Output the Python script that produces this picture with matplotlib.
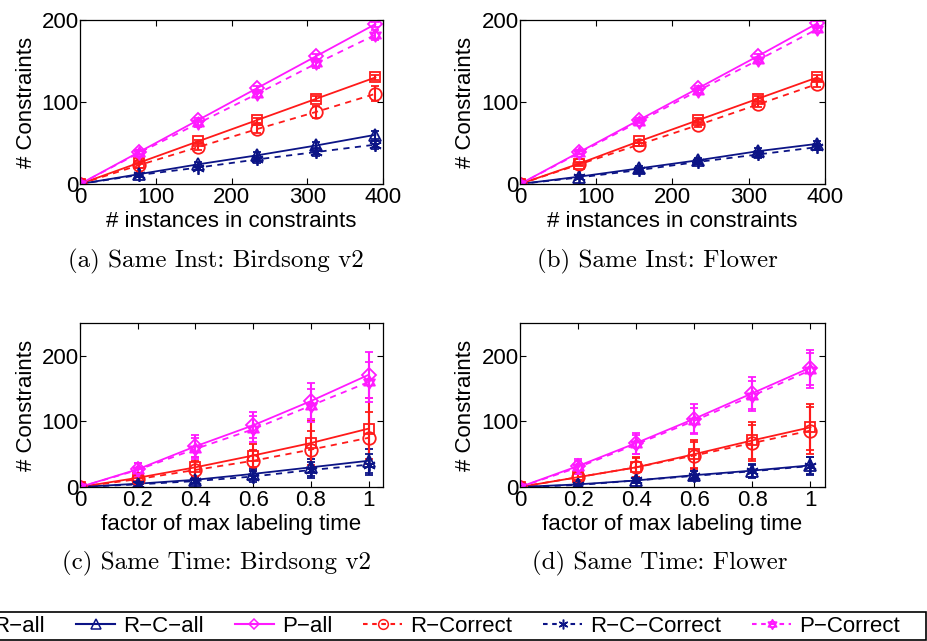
import matplotlib
matplotlib.use("Agg")
import matplotlib.pyplot as plt
from matplotlib.path import Path
from matplotlib.patches import Rectangle
from matplotlib.lines import Line2D

# ---------------- data ----------------
x_inst = [0, 78, 156, 234, 312, 390]
x_time = [0, 0.2, 0.4, 0.6, 0.8, 1.0]

series_names = ["R\u2212all", "R\u2212C\u2212all", "P\u2212all",
                "R\u2212Correct", "R\u2212C\u2212Correct", "P\u2212Correct"]

# panel (a) Same Inst: Birdsong v2
a_r_all = [0, 26, 52, 78, 104, 130];   a_r_all_err = [0, 2, 2, 3, 3, 3]
a_rc_all = [0, 12, 24, 35, 47, 60];    a_rc_all_err = [0, 2, 3, 4, 4, 5]
a_p_all = [0, 39, 78, 117, 156, 195];  a_p_all_err = [0, 2, 2, 2, 3, 3]
a_r_cor = [0, 23, 45, 67, 88, 110];    a_r_cor_err = [0, 3, 4, 5, 7, 9]
a_rc_cor = [0, 11, 20, 30, 39, 48];    a_rc_cor_err = [0, 2, 3, 4, 5, 5]
a_p_cor = [0, 38, 74, 110, 147, 182];  a_p_cor_err = [0, 3, 4, 4, 5, 6]

# panel (b) Same Inst: Flower
b_r_all = [0, 25, 52, 78, 104, 130];   b_r_all_err = [0, 2, 2, 2, 3, 3]
b_rc_all = [0, 9, 19, 29, 40, 49];     b_rc_all_err = [0, 2, 3, 3, 4, 4]
b_p_all = [0, 39, 78, 117, 156, 196];  b_p_all_err = [0, 2, 2, 2, 3, 3]
b_r_cor = [0, 24, 48, 72, 97, 122];    b_r_cor_err = [0, 2, 2, 3, 3, 4]
b_rc_cor = [0, 8, 17, 27, 36, 45];     b_rc_cor_err = [0, 2, 3, 3, 4, 4]
b_p_cor = [0, 38, 76, 114, 151, 189];  b_p_cor_err = [0, 2, 2, 3, 3, 3]

# panel (c) Same Time: Birdsong v2
c_r_all = [0, 14, 30, 48, 67, 89];     c_r_all_err = [0, 5, 15, 18, 33, 47]
c_rc_all = [0, 5, 11, 20, 30, 40];     c_rc_all_err = [0, 3, 5, 8, 13, 18]
c_p_all = [0, 27, 62, 94, 131, 171];   c_p_all_err = [0, 10, 17, 20, 27, 35]
c_r_cor = [0, 12, 26, 40, 57, 75];     c_r_cor_err = [0, 5, 13, 16, 28, 40]
c_rc_cor = [0, 4, 9, 16, 26, 34];      c_rc_cor_err = [0, 3, 5, 8, 12, 16]
c_p_cor = [0, 26, 58, 88, 124, 160];   c_p_cor_err = [0, 10, 16, 20, 25, 30]

# panel (d) Same Time: Flower
d_r_all = [0, 15, 30, 50, 71, 91];     d_r_all_err = [0, 5, 15, 21, 28, 35]
d_rc_all = [0, 4, 10, 18, 25, 33];     d_rc_all_err = [0, 2, 4, 7, 10, 13]
d_p_all = [0, 32, 67, 104, 143, 182];  d_p_all_err = [0, 10, 16, 22, 24, 27]
d_r_cor = [0, 15, 30, 48, 67, 86];     d_r_cor_err = [0, 5, 14, 20, 27, 36]
d_rc_cor = [0, 3, 10, 17, 24, 32];     d_rc_cor_err = [0, 2, 4, 7, 10, 13]
d_p_cor = [0, 30, 65, 101, 139, 178];  d_p_cor_err = [0, 10, 15, 20, 23, 27]

captions = ["(a) Same Inst: Birdsong v2", "(b) Same Inst: Flower",
            "(c) Same Time: Birdsong v2", "(d) Same Time: Flower"]
xlabels = ["# instances in constraints", "# instances in constraints",
           "factor of max labeling time", "factor of max labeling time"]
ylabel = "# Constraints"
inst_ticks = [0, 100, 200, 300, 400]
inst_ticklabels = ["0", "100", "200", "300", "400"]
time_ticks = [0, 0.2, 0.4, 0.6, 0.8, 1.0]
time_ticklabels = ["0", "0.2", "0.4", "0.6", "0.8", "1"]
y_ticks = [0, 100, 200]

# ---------------- style ----------------
plt.rcParams['font.family'] = ['Liberation Sans', 'DejaVu Sans']
RED = '#ff1a1a'
NAVY = '#0c1486'
MAG = '#ff1aff'

hexagram = Path(
    [(0, 1), (-0.866, -0.5), (0.866, -0.5), (0, 1),
     (0, -1), (0.866, 0.5), (-0.866, 0.5), (0, -1)],
    [Path.MOVETO, Path.LINETO, Path.LINETO, Path.CLOSEPOLY,
     Path.MOVETO, Path.LINETO, Path.LINETO, Path.CLOSEPOLY])

styles = [
    dict(color=RED, marker='s', ls='-', ms=7.5),
    dict(color=NAVY, marker='^', ls='-', ms=9),
    dict(color=MAG, marker='D', ls='-', ms=7.5),
    dict(color=RED, marker='o', ls='--', ms=9),
    dict(color=NAVY, marker=(6, 2, 0), ls='--', ms=9),
    dict(color=MAG, marker=hexagram, ls='--', ms=9),
]

fig = plt.figure(figsize=(9.28, 6.41), dpi=100)
W, H = 928.0, 641.0

def ax_rect(l, r, t, b):
    return [l / W, 1 - b / H, (r - l) / W, (b - t) / H]

rects = [ax_rect(80, 383, 20, 184), ax_rect(520, 825, 20, 184),
         ax_rect(80, 383, 323, 487), ax_rect(520, 825, 323, 487)]

panels = [
    (x_inst, [(a_r_all, a_r_all_err), (a_rc_all, a_rc_all_err), (a_p_all, a_p_all_err),
              (a_r_cor, a_r_cor_err), (a_rc_cor, a_rc_cor_err), (a_p_cor, a_p_cor_err)]),
    (x_inst, [(b_r_all, b_r_all_err), (b_rc_all, b_rc_all_err), (b_p_all, b_p_all_err),
              (b_r_cor, b_r_cor_err), (b_rc_cor, b_rc_cor_err), (b_p_cor, b_p_cor_err)]),
    (x_time, [(c_r_all, c_r_all_err), (c_rc_all, c_rc_all_err), (c_p_all, c_p_all_err),
              (c_r_cor, c_r_cor_err), (c_rc_cor, c_rc_cor_err), (c_p_cor, c_p_cor_err)]),
    (x_time, [(d_r_all, d_r_all_err), (d_rc_all, d_rc_all_err), (d_p_all, d_p_all_err),
              (d_r_cor, d_r_cor_err), (d_rc_cor, d_rc_cor_err), (d_p_cor, d_p_cor_err)]),
]

caption_pos = [(216, 261), (657, 261), (217, 563), (660, 563)]

for i, (rect, (xs, data)) in enumerate(zip(rects, panels)):
    ax = fig.add_axes(rect)
    for (ys, err), st in zip(data, styles):
        lc = ax.errorbar(xs, ys, yerr=err, color=st['color'], marker=st['marker'],
                         ms=st['ms'], mfc='none', mec=st['color'], mew=1.3,
                         lw=1.3, elinewidth=1.5, capsize=3, capthick=1.3)
        line = lc.lines[0]
        if st['ls'] == '--':
            line.set_linestyle((0, (3.4, 3.0)))
    if i < 2:
        ax.set_xlim(0, 400)
        ax.set_ylim(0, 200)
        ax.set_xticks(inst_ticks)
        ax.set_xticklabels(inst_ticklabels)
    else:
        ax.set_xlim(0, 1.05)
        ax.set_ylim(0, 250)
        ax.set_xticks(time_ticks)
        ax.set_xticklabels(time_ticklabels)
    ax.set_yticks(y_ticks)
    ax.tick_params(direction='in', top=True, right=True, length=4, width=0.8,
                   labelsize=16)
    ax.tick_params(axis='x', pad=2.5)
    ax.tick_params(axis='y', pad=1)
    for sp in ax.spines.values():
        sp.set_linewidth(0.9)
    ax.set_xlabel(xlabels[i], fontsize=16, va='center')
    ax.xaxis.set_label_coords(0.5, -0.228)
    ax.set_ylabel(ylabel, fontsize=16, va='center')
    ax.yaxis.set_label_coords(-0.178, 0.5)
    cx, cy = caption_pos[i]
    fig.text(cx / W, 1 - cy / H, captions[i], family='cmr10', fontsize=18,
             ha='center', va='center')

# legend
handles = []
for st in styles:
    h = Line2D([], [], color=st['color'], marker=st['marker'], ms=st['ms'] - 2,
               mfc='none', mec=st['color'], mew=1.1, lw=1.5,
               ls='-' if st['ls'] == '-' else (0, (2.2, 2.2)))
    handles.append(h)
fig.add_artist(Rectangle((-10 / W, 1 - 640 / H), (936) / W, 28 / H,
                         transform=fig.transFigure, fill=False, ec='black', lw=1.2))
fig.legend(handles, series_names, loc='center right', ncol=6,
           bbox_to_anchor=(900 / W, 1 - 626 / H), frameon=False, fontsize=16,
           handlelength=1.75, handletextpad=0.36, columnspacing=1.4,
           borderpad=0, borderaxespad=0)

fig.savefig("out.png", dpi=100)
